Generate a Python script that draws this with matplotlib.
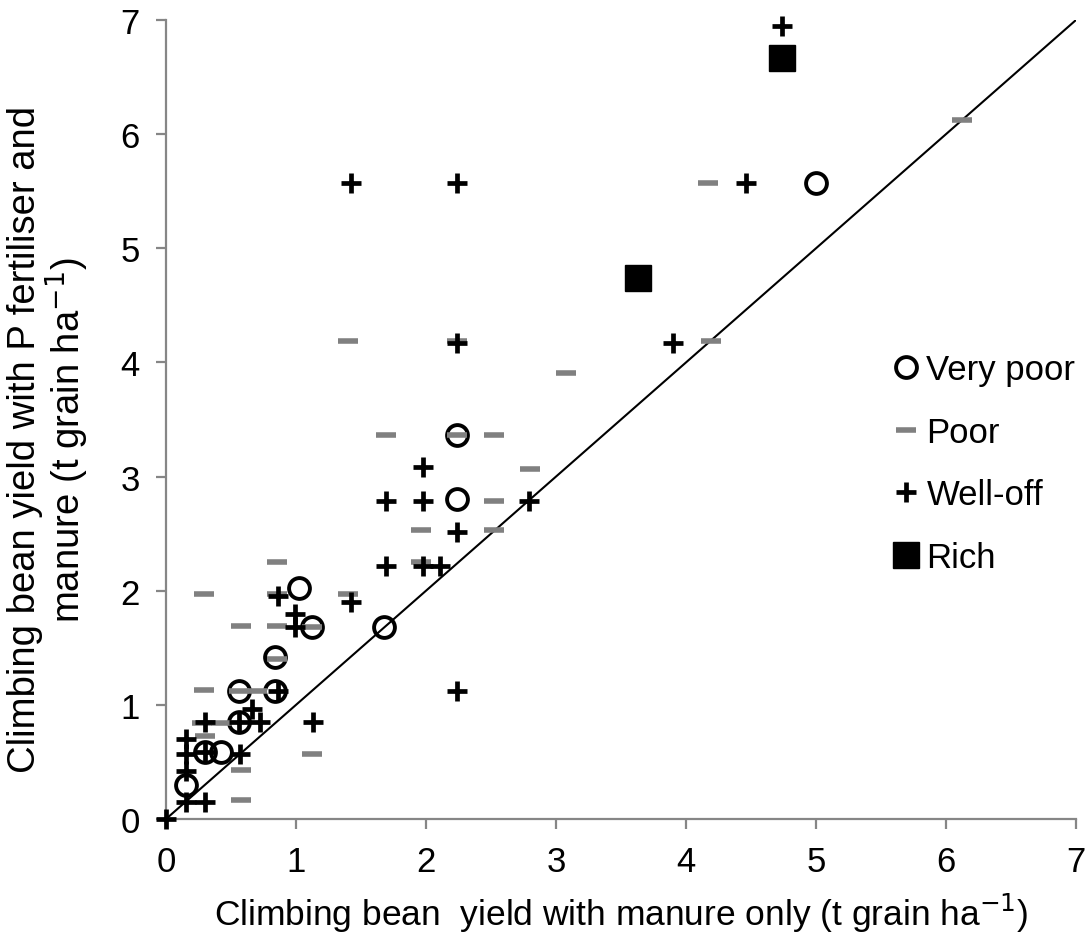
import numpy as np
import matplotlib
matplotlib.use("Agg")
from matplotlib import pyplot as plt

plt.rcParams['font.family'] = ['Liberation Sans', 'DejaVu Sans']

# yields (t grain/ha): x = manure only, y = P fertiliser + manure
vpoor_x = [5.00, 2.24, 2.24, 1.02, 1.12, 1.68, 0.84, 0.56, 0.84, 0.56, 0.30, 0.42, 0.15]
vpoor_y = [5.57, 3.36, 2.80, 2.02, 1.68, 1.68, 1.42, 1.12, 1.12, 0.85, 0.59, 0.59, 0.30]

poor_x = [6.12, 4.17, 4.19, 1.40, 2.24, 3.08, 1.69, 2.24, 2.52, 2.80, 2.52, 1.96, 2.52,
          1.96, 0.85, 0.29, 0.85, 1.40, 0.58, 0.85, 1.12, 0.85, 0.29, 0.56, 0.70, 0.28,
          0.42, 1.12, 0.30, 0.58, 0.58]
poor_y = [6.12, 5.57, 4.19, 4.19, 4.19, 3.91, 3.36, 3.36, 3.36, 3.07, 2.79, 2.53, 2.53,
          2.25, 2.25, 1.97, 1.97, 1.97, 1.69, 1.69, 1.68, 1.40, 1.13, 1.12, 1.12, 0.84,
          0.84, 0.57, 0.73, 0.43, 0.17]

well_x = [4.74, 1.42, 2.24, 4.46, 2.24, 3.90, 1.98, 1.69, 1.98, 2.79, 2.24, 1.69, 1.98,
          2.11, 0.86, 1.42, 0.99, 0.99, 0.86, 2.24, 0.30, 0.56, 0.66, 0.72, 1.13, 0.15,
          0.15, 0.30, 0.57, 0.15, 0.15, 0.30, 0.00]
well_y = [6.95, 5.57, 5.57, 5.57, 4.17, 4.17, 3.08, 2.79, 2.79, 2.79, 2.51, 2.22, 2.22,
          2.22, 1.95, 1.90, 1.80, 1.68, 1.12, 1.12, 0.85, 0.85, 0.96, 0.85, 0.85, 0.70,
          0.57, 0.59, 0.57, 0.42, 0.15, 0.15, 0.00]

rich_x = [4.74, 3.63]
rich_y = [6.67, 4.74]

ticks = [0, 1, 2, 3, 4, 5, 6, 7]

fig = plt.figure(figsize=(10.86, 9.37), dpi=100)
ax = fig.add_axes([0.1529, 0.1249, 0.8379, 0.8527])

ax.plot([0, 7], [0, 7], color='black', lw=1.5, zorder=1)

ax.plot(vpoor_x, vpoor_y, 'o', ms=15, mfc='none', mec='black', mew=2.8,
        label='Very poor', zorder=2, clip_on=False)
ax.plot(poor_x, poor_y, '_', ms=15, mec='#808080', mew=4, label='Poor',
        zorder=3, clip_on=False)
ax.plot(well_x, well_y, '+', ms=15, mec='black', mew=3.4, label='Well-off',
        zorder=4, clip_on=False)
ax.plot(rich_x, rich_y, 's', ms=19, mfc='black', mec='black', label='Rich',
        zorder=5, clip_on=False)

ax.set_xlim(0, 7)
ax.set_ylim(0, 7)
ax.set_xticks(ticks)
ax.set_yticks(ticks)
for s in ['top', 'right']:
    ax.spines[s].set_visible(False)
for s in ['left', 'bottom']:
    ax.spines[s].set_color('#868686')
    ax.spines[s].set_linewidth(1.6)
ax.tick_params(axis='both', colors='#868686', length=7, width=1.6,
               labelsize=25, labelcolor='black')
ax.tick_params(axis='x', pad=12)
ax.tick_params(axis='y', pad=12)

ax.set_xlabel('Climbing bean  yield with manure only (t grain ha$^{-1}$)',
              fontsize=25.5, labelpad=9)
ax.set_ylabel('Climbing bean yield with P fertiliser and\nmanure (t grain ha$^{-1}$)',
              fontsize=27.5, linespacing=1.0)
ax.yaxis.set_label_coords(-0.083, 0.476)

leg = ax.legend(loc='center left', bbox_to_anchor=(0.786, 0.445), frameon=False,
                fontsize=25, handlelength=0.6, handletextpad=0.3,
                labelspacing=0.85, borderaxespad=0)

plt.savefig('out.png', dpi=100)
